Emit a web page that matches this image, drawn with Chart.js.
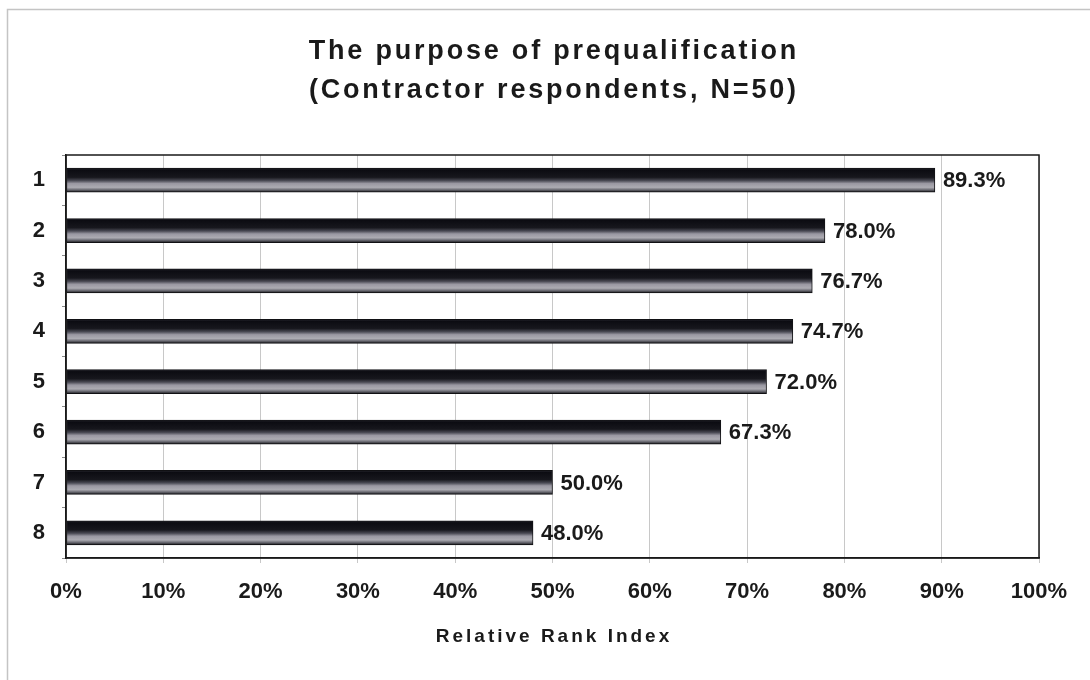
<!DOCTYPE html>
<html>
<head>
<meta charset="utf-8">
<title>The purpose of prequalification</title>
<script src="https://cdn.jsdelivr.net/npm/chart.js@4"></script>
<style>
  html, body { margin: 0; padding: 0; background: #ffffff; }
  #wrap { width: 1090px; height: 680px; }
</style>
</head>
<body>
<div id="wrap"><canvas id="chart" width="1090" height="680"></canvas></div>
<script>
// Ranked purposes (1 = highest Relative Rank Index)
const categories = ['1', '2', '3', '4', '5', '6', '7', '8'];
const rriValues = [89.3, 78.0, 76.7, 74.7, 72.0, 67.3, 50.0, 48.0];
const xTicks = [0, 10, 20, 30, 40, 50, 60, 70, 80, 90, 100];

const titleLines = ['The purpose of prequalification', '(Contractor respondents, N=50)'];
const axisTitle = 'Relative Rank Index';

const FONT = '"Liberation Sans", Arial, sans-serif';
const BAR_THICK = 24;

// Cylinder-like shading across the thickness of each bar
function barFill(ctx) {
  const chart = ctx.chart;
  if (!chart.chartArea || ctx.type !== 'data') return '#333';
  const yc = chart.scales.y.getPixelForValue(ctx.dataIndex);
  const g = chart.ctx.createLinearGradient(0, yc - BAR_THICK / 2, 0, yc + BAR_THICK / 2);
  g.addColorStop(0.00, '#2a2a32');
  g.addColorStop(0.08, '#0c0c12');
  g.addColorStop(0.38, '#17171d');
  g.addColorStop(0.52, '#4a4a54');
  g.addColorStop(0.64, '#9a98a2');
  g.addColorStop(0.80, '#acabb2');
  g.addColorStop(0.90, '#6a6a72');
  g.addColorStop(1.00, '#1a1a1e');
  return g;
}

// Light frame around the whole chart and the dark frame around the plot
const framePlugin = {
  id: 'frames',
  beforeDraw(chart) {
    const c = chart.ctx;
    c.save();
    c.fillStyle = '#ffffff';
    c.fillRect(0, 0, chart.width, chart.height);
    c.strokeStyle = '#c4c4c4';
    c.lineWidth = 1.5;
    c.beginPath();
    c.moveTo(7.5, chart.height + 2);
    c.lineTo(7.5, 9.5);
    c.lineTo(chart.width + 2, 9.5);
    c.stroke();
    c.restore();
  },
  afterDraw(chart) {
    const a = chart.chartArea;
    const c = chart.ctx;
    c.save();
    c.strokeStyle = '#1a1a1a';
    c.lineWidth = 1.5;
    c.strokeRect(a.left, a.top, a.right - a.left, a.bottom - a.top);
    c.restore();
  }
};

// Chart title and axis title, letter-spaced
const textPlugin = {
  id: 'texts',
  afterDraw(chart) {
    const a = chart.chartArea;
    const cx = (a.left + a.right) / 2;
    const c = chart.ctx;
    c.save();
    c.fillStyle = '#1a1a1a';
    c.textAlign = 'center';
    c.textBaseline = 'alphabetic';
    c.font = 'bold 27px ' + FONT;
    c.letterSpacing = '2.8px';
    c.fillText(titleLines[0], cx + 1.4, 59);
    c.fillText(titleLines[1], cx + 1.4, 98);
    c.font = 'bold 19px ' + FONT;
    c.letterSpacing = '3px';
    c.fillText(axisTitle, cx + 1.5, 642);
    c.restore();
  }
};

// Value labels at the end of each bar
const valueLabels = {
  id: 'valueLabels',
  afterDatasetsDraw(chart) {
    const c = chart.ctx;
    const meta = chart.getDatasetMeta(0);
    c.save();
    c.fillStyle = '#1a1a1a';
    c.font = 'bold 22px ' + FONT;
    c.textAlign = 'left';
    c.textBaseline = 'middle';
    meta.data.forEach((el, i) => {
      c.fillText(rriValues[i].toFixed(1) + '%', el.x + 8, el.y + 1);
    });
    c.restore();
  }
};

new Chart(document.getElementById('chart'), {
  type: 'bar',
  data: {
    labels: categories,
    datasets: [{
      data: rriValues,
      backgroundColor: barFill,
      borderColor: '#111114',
      borderWidth: 1,
      borderSkipped: false,
      barThickness: BAR_THICK
    }]
  },
  options: {
    indexAxis: 'y',
    responsive: false,
    animation: false,
    events: [],
    layout: { padding: { top: 155, right: 51, left: 0, bottom: 0 } },
    plugins: {
      legend: { display: false },
      title: { display: false },
      tooltip: { enabled: false }
    },
    scales: {
      x: {
        type: 'linear',
        min: 0,
        max: 100,
        afterBuildTicks(scale) {
          scale.ticks = xTicks.map(v => ({ value: v }));
        },
        afterFit(scale) { scale.height = 122; },
        ticks: {
          callback: v => v + '%',
          color: '#1a1a1a',
          font: { family: FONT, size: 22, weight: 'bold' },
          padding: 16
        },
        grid: {
          color: '#c8c8c8',
          lineWidth: 1,
          drawTicks: true,
          tickLength: 5
        },
        border: { display: true, color: '#1a1a1a', width: 1.5 }
      },
      y: {
        type: 'category',
        afterFit(scale) { scale.width = 66; },
        ticks: {
          color: '#1a1a1a',
          font: { family: FONT, size: 22, weight: 'bold' },
          padding: 17
        },
        grid: {
          drawOnChartArea: false,
          drawTicks: true,
          tickLength: 4,
          color: '#8a8a8a',
          offset: true
        },
        border: { display: true, color: '#1a1a1a', width: 1.5 }
      }
    }
  },
  plugins: [framePlugin, textPlugin, valueLabels]
});
</script>
</body>
</html>
